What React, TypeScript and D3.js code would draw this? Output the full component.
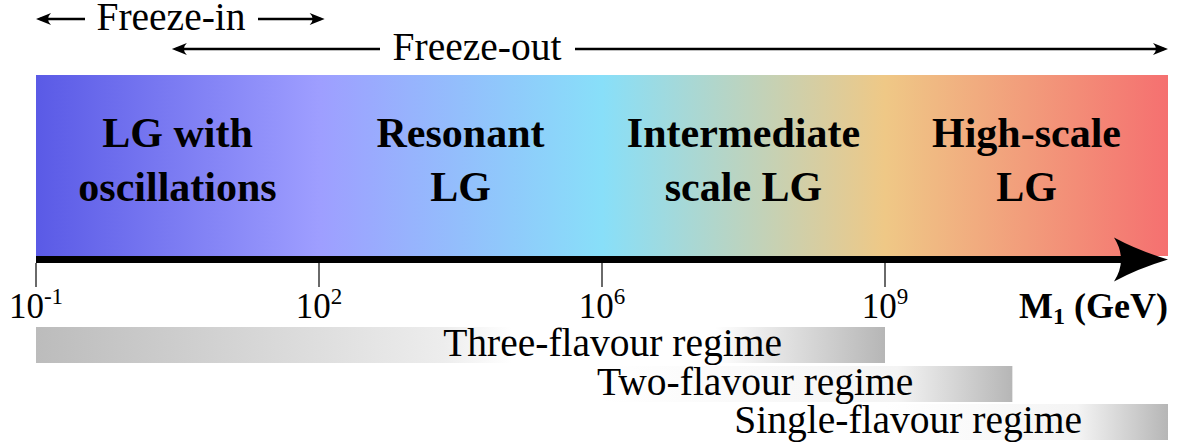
import React from "react";
import * as d3 from "d3";

// ---- data ----
const tickExponents: string[] = ["-1", "2", "6", "9"];
const regionLine1: string[] = ["LG with", "Resonant", "Intermediate", "High-scale"];
const regionLine2: string[] = ["oscillations", "LG", "scale LG", "LG"];
const bandColors: string[] = ["#5a5ae6", "#9e9eff", "#88dff9", "#efc886", "#f57070"];
const regimeNames: string[] = ["Three-flavour regime", "Two-flavour regime", "Single-flavour regime"];
const regimeStart: number[] = [0, 2, 3];
const regimeEnd: number[] = [3, 3.45, 4];
const freezeLabels: string[] = ["Freeze-in", "Freeze-out"];
const freezeStart: number[] = [0, 0.48];
const freezeEnd: number[] = [1.02, 4];
const axisLabel = { main: "M", sub: "1", unit: " (GeV)" };

const W = 1180;
const H = 444;
const FONT = "'Liberation Serif', 'Times New Roman', serif";

export default function App() {
  const x = d3.scaleLinear().domain([0, 4]).range([36, 1168]);
  const bandTop = 75;
  const bandBottom = 256;
  const axisY = 259.5;

  const stemArrow = (tx: number, y: number, dir: number) =>
    `M${tx},${y} L${tx - dir * 15},${y - 6} Q${tx - dir * 9},${y} ${tx - dir * 15},${y + 6} Z`;

  // top freeze arrows with text gaps
  const freezeY = [19, 49];
  const freezeBase = [30, 60];
  const freezeTextL = [97, 392];
  const freezeTextR = [245, 562];

  const barTop = [327, 366, 404];
  const barH = 36;
  const textBase = [356, 395, 433];
  const textGap = [103, 99, 86];

  return (
    <svg
      width={W}
      height={H}
      style={{ position: "absolute", left: 0, top: 0, background: "#fff" }}
      fontFamily={FONT}
    >
      <defs>
        <linearGradient id="band" x1="0" x2="1" y1="0" y2="0">
          {bandColors.map((c, i) => (
            <stop key={i} offset={i / (bandColors.length - 1)} stopColor={c} />
          ))}
        </linearGradient>
        <linearGradient id="g0" x1="0" x2="1" y1="0" y2="0">
          <stop offset="0" stopColor="#bcbcbc" />
          <stop offset="0.48" stopColor="#ededed" />
          <stop offset="0.56" stopColor="#ffffff" />
          <stop offset="0.8" stopColor="#ffffff" />
          <stop offset="1" stopColor="#b6b6b6" />
        </linearGradient>
        <linearGradient id="g1" x1="0" x2="1" y1="0" y2="0">
          <stop offset="0" stopColor="#ffffff" />
          <stop offset="0.72" stopColor="#f4f4f4" />
          <stop offset="1" stopColor="#b6b6b6" />
        </linearGradient>
        <linearGradient id="g2" x1="0" x2="1" y1="0" y2="0">
          <stop offset="0" stopColor="#ffffff" />
          <stop offset="0.68" stopColor="#f4f4f4" />
          <stop offset="1" stopColor="#b6b6b6" />
        </linearGradient>
      </defs>

      {/* freeze arrows */}
      {freezeLabels.map((lab, i) => {
        const x0 = x(freezeStart[i]);
        const x1 = x(freezeEnd[i]);
        const y = freezeY[i];
        return (
          <g key={lab}>
            <line x1={x0 + 4} x2={freezeTextL[i] - 12} y1={y} y2={y} stroke="#000" strokeWidth={2.4} />
            <path d={stemArrow(x0, y, -1)} fill="#000" />
            <line x1={freezeTextR[i] + 13} x2={x1 - 4} y1={y} y2={y} stroke="#000" strokeWidth={2.4} />
            <path d={stemArrow(x1, y, 1)} fill="#000" />
            <text
              x={(freezeTextL[i] + freezeTextR[i]) / 2}
              y={freezeBase[i]}
              textAnchor="middle"
              fontSize={39.5}
              fill="#000"
            >
              {lab}
            </text>
          </g>
        );
      })}

      {/* gradient band */}
      <rect x={x(0)} y={bandTop} width={x(4) - x(0)} height={bandBottom - bandTop} fill="url(#band)" />

      {/* region labels */}
      {regionLine1.map((l1, i) => (
        <text
          key={l1}
          x={x(i + 0.5)}
          textAnchor="middle"
          fontSize={42}
          fontWeight="bold"
          fill="#000"
        >
          <tspan x={x(i + 0.5)} y={147}>{l1}</tspan>
          <tspan x={x(i + 0.5)} y={201}>{regionLine2[i]}</tspan>
        </text>
      ))}

      {/* axis */}
      <rect x={x(0)} y={axisY - 3.5} width={x(4) - x(0) - 45} height={7} fill="#000" />
      <path
        d={`M${x(4)},${axisY} Q${x(4) - 30},${axisY - 9} ${x(4) - 54},${axisY - 22} Q${x(4) - 40},${axisY} ${x(4) - 54},${axisY + 22} Q${x(4) - 30},${axisY + 9} ${x(4)},${axisY} Z`}
        fill="#000"
      />
      {tickExponents.map((e, i) => (
        <g key={e}>
          <line x1={x(i)} x2={x(i)} y1={axisY + 3.5} y2={287} stroke="#6a6a6a" strokeWidth={2} />
          <text x={x(i)} y={318} textAnchor="middle" fontSize={35} fill="#000">
            10
            <tspan dy={-14} fontSize={23}>{e}</tspan>
          </text>
        </g>
      ))}
      <text x={x(4)} y={318} textAnchor="end" fontSize={36} fontWeight="bold" fill="#000">
        {axisLabel.main}
        <tspan dy={6} fontSize={24}>{axisLabel.sub}</tspan>
        <tspan dy={-6}>{axisLabel.unit}</tspan>
      </text>

      {/* regime bars */}
      {regimeNames.map((name, i) => {
        const x0 = x(regimeStart[i]);
        const x1 = x(regimeEnd[i]);
        return (
          <g key={name}>
            <rect x={x0} y={barTop[i]} width={x1 - x0} height={barH} fill={`url(#g${i})`} />
            <text x={x1 - textGap[i]} y={textBase[i]} textAnchor="end" fontSize={39.5} fill="#000">
              {name}
            </text>
          </g>
        );
      })}
    </svg>
  );
}
